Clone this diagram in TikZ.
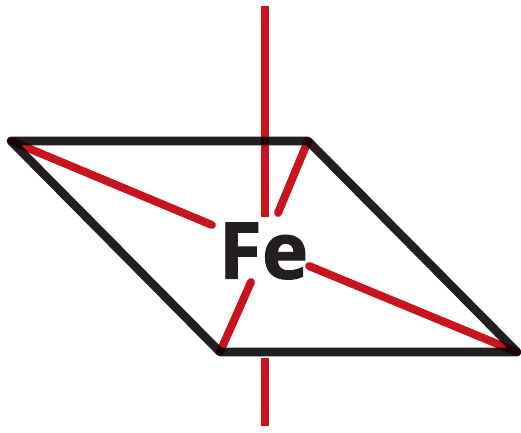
\documentclass[tikz,border=0pt]{standalone}
\usepackage{fontspec}
\setmainfont[BoldFeatures={FakeBold=1.2}]{Open Sans}
\definecolor{fered}{HTML}{C8141E}
\definecolor{feblack}{HTML}{231F20}
\tikzset{redline/.style={draw=fered,line width=6pt},
redtip/.style={redline,line cap=round},
blackline/.style={draw=feblack,line width=6.4pt,line join=round,line cap=round}}
\begin{document}
\begin{tikzpicture}[x=1pt,y=-1pt,scale=0.75]
\useasboundingbox (0,0) rectangle (521,432);
\coordinate (A) at (11,141);
\coordinate (B) at (308,141);
\coordinate (C) at (517,352);
\coordinate (D) at (220,352);
\coordinate (T) at (264.5,6);
\coordinate (Tb) at (264.5,217);
\coordinate (Bt) at (264.5,358);
\coordinate (Bb) at (264.5,426);
\coordinate (a1) at (212,225);
\coordinate (b1) at (278,213);
\coordinate (c1) at (309,266);
\coordinate (d1) at (251,282);
\draw[redline] (T) -- (Tb);
\draw[redline] (Bt) -- (Bb);
\draw[redtip] (A) -- (a1);
\draw[redtip] (B) -- (b1);
\draw[redtip] (C) -- (c1);
\draw[redtip] (D) -- (d1);
\begin{scope}[blend mode=multiply]
\draw[blackline] (A) -- (B) -- (C) -- (D) -- cycle;
\end{scope}
\node[text=feblack,font=\bfseries\fontsize{59}{59}\selectfont,inner sep=0pt] (fe) at (263.5,251) {Fe};
\end{tikzpicture}
\end{document}
